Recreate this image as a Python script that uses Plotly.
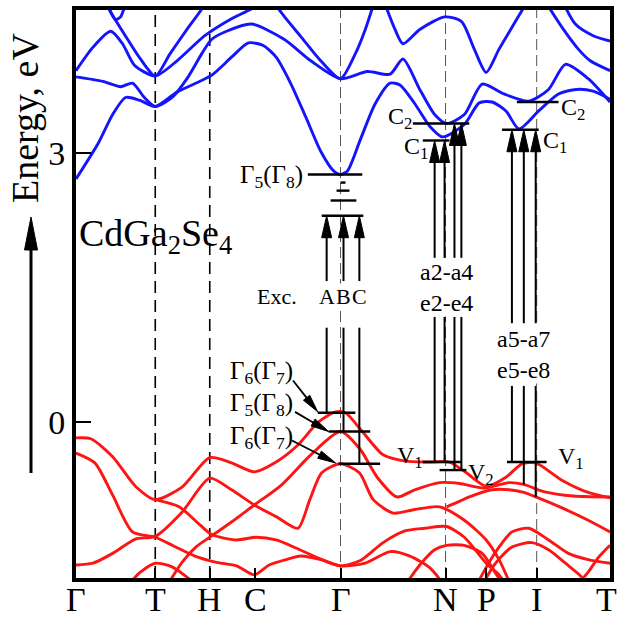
import numpy as np
import plotly.graph_objects as go

FONT = "Liberation Serif, Times New Roman, serif"
BLUE = "#1414ff"
RED = "#ff1414"

# ---------------- data ----------------
kpts = [0, 80, 135, 181, 267, 373, 414, 465, 539]
klabels = ["Γ", "T", "H", "C", "Γ", "N", "P", "I", "T"]
etick_vals = [0, 3]
etick_text = ["0", "3"]

# conduction bands (k, eV)
cb1_k = [0, 22, 37, 50, 64, 80, 102, 137, 157, 174, 189, 202, 217, 232, 247, 260, 267, 274, 287, 302,
         317, 327, 342, 357, 370, 392, 407, 420, 434, 447, 467, 487, 505, 522, 539]
cb1_e = [2.71, 3.10, 3.43, 3.62, 3.59, 3.52, 3.68, 3.87, 4.07, 4.23, 4.20, 4.07, 3.77, 3.40, 3.02, 2.80, 2.76, 2.80, 3.15, 3.55,
         3.78, 3.76, 3.55, 3.30, 3.18, 3.32, 3.56, 3.57, 3.47, 3.27, 3.47, 3.66, 3.71, 3.69, 3.60]
cb2_k = [0, 27, 45, 57, 69, 80, 97, 112, 127, 137, 152, 177, 210, 237, 267, 294, 317, 330, 347, 362,
         374, 392, 410, 432, 457, 477, 494, 517, 539]
cb2_e = [3.85, 3.80, 3.74, 3.78, 3.62, 3.52, 3.62, 3.83, 4.11, 4.27, 4.36, 4.44, 4.27, 4.03, 3.83, 3.91, 3.88, 4.05, 3.71, 3.43,
         3.33, 3.43, 3.77, 3.66, 3.58, 3.71, 3.99, 3.83, 3.57]
cb3_k = [0, 17, 35, 47, 59, 80, 102, 130, 157, 177, 189]
cb3_e = [3.92, 4.18, 4.36, 4.22, 3.98, 3.86, 4.03, 4.31, 4.50, 4.61, 4.72]
cb4_k = [197, 212, 227, 247, 267, 282, 292, 302]
cb4_e = [4.72, 4.50, 4.30, 4.03, 3.83, 4.11, 4.38, 4.72]
cb5_k = [310, 322, 330, 347, 372, 389, 402, 414, 427, 442, 457]
cb5_e = [4.72, 4.38, 4.22, 4.38, 4.52, 4.47, 4.16, 3.90, 4.16, 4.44, 4.72]
cb6_k = [472, 492, 507, 519, 539]
cb6_e = [4.72, 4.38, 4.16, 4.03, 3.92]
cb7_k = [490, 504, 522, 539]
cb7_e = [4.72, 4.44, 4.31, 4.25]
cb8_k = [27, 39, 52, 65, 80, 95, 112, 127, 132]
cb8_e = [4.72, 4.50, 4.27, 4.05, 3.86, 4.11, 4.38, 4.61, 4.72]
cb9_k = [31, 36, 40, 45, 49, 52]
cb9_e = [4.72, 4.55, 4.49, 4.52, 4.63, 4.72]

# valence bands (k, eV)
vb1_k = [0, 15, 37, 60, 80, 107, 135, 157, 180, 202, 224, 244, 262, 272, 289, 310, 332, 357, 377, 394,
         414, 434, 450, 464, 490, 517, 539]
vb1_e = [-0.18, -0.19, -0.39, -0.72, -0.87, -0.73, -0.40, -0.46, -0.56, -0.45, -0.26, -0.01, 0.11, 0.10, -0.11, -0.37, -0.44, -0.45, -0.45, -0.57,
         -0.72, -0.62, -0.47, -0.46, -0.65, -0.79, -0.85]
vb2_k = [0, 19, 37, 57, 80, 99, 120, 142, 162, 180, 195, 212, 227, 247, 267, 287, 310, 332, 352, 374, 392, 414, 427, 435]
vb2_e = [-0.35, -0.46, -0.82, -1.23, -1.29, -1.39, -1.50, -1.57, -1.61, -1.71, -1.60, -1.54, -1.50, -1.54, -1.61, -1.55,
         -1.35, -1.22, -1.19, -1.17, -1.29, -1.58, -1.71, -1.83]
vb3_k = [0, 17, 37, 60, 80, 107, 135, 157, 180, 202, 224, 236, 248, 267, 286, 300, 320, 342, 367, 392, 414, 427, 439]
vb3_e = [-1.60, -1.58, -1.47, -1.31, -1.28, -1.01, -0.63, -0.76, -0.93, -1.06, -1.19, -0.87, -0.57, -0.47, -0.57, -0.87,
         -1.02, -0.98, -0.95, -1.10, -1.32, -1.54, -1.83]
vb4_k = [80, 104, 122, 137, 162, 182, 202, 222, 244, 267, 292, 317, 337, 357, 372]
vb4_e = [-0.87, -0.95, -1.12, -1.26, -1.32, -1.29, -1.32, -1.41, -1.52, -1.61, -1.58, -1.45, -1.50, -1.63, -1.83]
vb5_k = [404, 417, 427, 440, 457, 477, 497, 517, 539]
vb5_e = [-1.83, -1.57, -1.40, -1.23, -1.19, -1.32, -1.47, -1.54, -1.58]
vb6_k = [92, 107, 122, 135, 157, 180, 207, 237, 267, 287, 304, 324, 342, 367, 387, 412, 437, 452, 472, 502, 539]
vb6_e = [-1.83, -1.57, -1.39, -1.29, -1.12, -0.93, -0.71, -0.37, -0.11, -0.31, -0.62, -0.84, -0.76, -0.68, -0.69, -0.74,
         -0.68, -0.70, -0.78, -0.83, -0.84]
vb7_k = [52, 65, 80, 97, 117, 122]
vb7_e = [-1.83, -1.68, -1.58, -1.62, -1.78, -1.83]
vb8_k = [505, 517, 527, 539]
vb8_e = [-1.83, -1.68, -1.52, -1.38]
vb9_k = [374, 387, 397, 420, 437, 452, 464, 490, 517, 539]
vb9_e = [-0.95, -0.89, -0.84, -0.76, -0.76, -0.79, -0.84, -0.96, -1.10, -1.23]
vb10_k = [410, 422, 440, 460, 477, 494, 510, 515]
vb10_e = [-1.83, -1.60, -1.40, -1.35, -1.43, -1.58, -1.73, -1.83]
vb11_k = [332, 347, 362, 374, 392, 410, 424, 432]
vb11_e = [-1.83, -1.60, -1.43, -1.38, -1.38, -1.47, -1.70, -1.83]

# energy levels: (k start, k end, eV)
level_k0 = [234, 267, 263, 257, 248, 244, 255, 265, 340, 350, 350, 367, 445, 430, 435]
level_k1 = [289, 272, 276, 283, 290, 282, 297, 307, 397, 377, 389, 394, 487, 467, 475]
level_e = [2.76, 2.67, 2.58, 2.47, 2.30, 0.10, -0.11, -0.47, 3.33, 3.14, -0.45, -0.54, 3.57, 3.26, -0.45]

# transitions (vertical arrows): k, from eV, to eV, label gap (lo, hi)
tr_k = [253, 270, 286, 362, 372, 382, 389, 440, 452, 464]
tr_from = [0.10, -0.11, -0.47, -0.45, -0.45, -0.54, -0.54, -0.45, -0.70, -0.84]
tr_to = [2.30, 2.30, 2.30, 3.14, 3.14, 3.33, 3.33, 3.26, 3.26, 3.26]
tr_gap_lo = [1.05, 1.05, 1.05, 1.17, 1.17, 1.17, 1.17, 0.40, 0.40, 0.40]
tr_gap_hi = [1.57, 1.57, 1.57, 1.83, 1.83, 1.83, 1.83, 1.10, 1.10, 1.10]

# labelled Gamma-point states with pointer arrows
gl_text = ["Γ<sub>6</sub>(Γ<sub>7</sub>)", "Γ<sub>5</sub>(Γ<sub>8</sub>)", "Γ<sub>6</sub>(Γ<sub>7</sub>)"]
gl_k = [220, 220, 220]
gl_e = [0.55, 0.19, -0.18]
gp_tail_k = [219, 221, 218]
gp_tail_e = [0.46, 0.11, -0.21]
gp_tip_k = [244, 255, 262]
gp_tip_e = [0.11, -0.11, -0.46]

# ---------------- geometry ----------------
W, H = 618, 619
ML, MR, MT, MB = 76, 8, 10, 41
KMIN, KMAX = 0, 539
EMIN, EMAX = -1.745, 4.597
PW = W - ML - MR
PH = H - MT - MB
SX = PW / (KMAX - KMIN)
SY = PH / (EMAX - EMIN)


def head_path(kt, et, dx, dy, L, Wd):
    n = np.hypot(dx, dy)
    ux, uy = dx / n, dy / n
    tx, ty = kt * SX, et * SY
    bx, by = tx - L * ux, ty - L * uy
    px, py = -uy, ux
    p1 = (bx + Wd / 2 * px, by + Wd / 2 * py)
    p2 = (bx - Wd / 2 * px, by - Wd / 2 * py)
    return f"M{kt},{et} L{p1[0]/SX},{p1[1]/SY} L{p2[0]/SX},{p2[1]/SY} Z"


fig = go.Figure()

for k, e in [(cb1_k, cb1_e), (cb2_k, cb2_e), (cb3_k, cb3_e), (cb4_k, cb4_e), (cb5_k, cb5_e),
             (cb6_k, cb6_e), (cb7_k, cb7_e), (cb8_k, cb8_e), (cb9_k, cb9_e)]:
    fig.add_trace(go.Scatter(x=k, y=e, mode="lines",
                             line=dict(color=BLUE, width=2.9, shape="spline", smoothing=0.7),
                             hoverinfo="skip", showlegend=False))
for k, e in [(vb1_k, vb1_e), (vb2_k, vb2_e), (vb3_k, vb3_e), (vb4_k, vb4_e), (vb5_k, vb5_e),
             (vb6_k, vb6_e), (vb7_k, vb7_e), (vb8_k, vb8_e), (vb9_k, vb9_e), (vb10_k, vb10_e),
             (vb11_k, vb11_e)]:
    fig.add_trace(go.Scatter(x=k, y=e, mode="lines",
                             line=dict(color=RED, width=2.9, shape="spline", smoothing=0.7),
                             hoverinfo="skip", showlegend=False))

# levels
lx, ly = [], []
for a, b, e in zip(level_k0, level_k1, level_e):
    lx += [a, b, None]
    ly += [e, e, None]
fig.add_trace(go.Scatter(x=lx, y=ly, mode="lines", line=dict(color="black", width=2.4),
                         hoverinfo="skip", showlegend=False))

# transition arrows
HEAD_L, HEAD_W = 22, 10
ax_, ay_ = [], []
for k, e0, e1, g0, g1 in zip(tr_k, tr_from, tr_to, tr_gap_lo, tr_gap_hi):
    ax_ += [k, k, None, k, k, None]
    ay_ += [e0, g0, None, g1, e1 - HEAD_L / SY * 0.8, None]
    fig.add_shape(type="path", path=head_path(k, e1, 0, 1, HEAD_L, HEAD_W),
                  xref="x", yref="y", fillcolor="black", line=dict(color="black", width=1))
fig.add_trace(go.Scatter(x=ax_, y=ay_, mode="lines", line=dict(color="black", width=2),
                         hoverinfo="skip", showlegend=False))

# Gamma labels and pointer arrows
px_, py_ = [], []
for t, k, e, tk, te, hk, he in zip(gl_text, gl_k, gl_e, gp_tail_k, gp_tail_e, gp_tip_k, gp_tip_e):
    fig.add_annotation(x=k, y=e, text=t, showarrow=False, xanchor="right", yanchor="middle",
                       borderpad=0, font=dict(family=FONT, size=25, color="black"))
    dx, dy = (hk - tk) * SX, (he - te) * SY
    n = np.hypot(dx, dy)
    bk = hk - 14 * dx / n / SX
    be = he - 14 * dy / n / SY
    px_ += [tk, bk, None]
    py_ += [te, be, None]
    fig.add_shape(type="path", path=head_path(hk, he, dx, dy, 18, 8), xref="x", yref="y",
                  fillcolor="black", line=dict(color="black", width=1))
fig.add_trace(go.Scatter(x=px_, y=py_, mode="lines", line=dict(color="black", width=1.8),
                         hoverinfo="skip", showlegend=False))

# vertical high-symmetry lines
for k, strong in zip([80, 135, 267, 373, 465], [True, True, False, False, False]):
    fig.add_shape(type="line", x0=k, x1=k, y0=0, y1=1, xref="x", yref="paper", layer="below",
                  line=dict(color="black" if strong else "#555555", width=1.6 if strong else 1.0,
                            dash="12px,7px" if strong else "11px,5px"))

# text labels
def txt(x, y, s, size, xanchor="center", xref="x", yref="y", angle=0, bg=None, xshift=0):
    fig.add_annotation(x=x, y=y, text=s, showarrow=False, xanchor=xanchor, yanchor="middle",
                       xref=xref, yref=yref, textangle=angle, borderpad=0, xshift=xshift,
                       bgcolor=bg if bg else "rgba(0,0,0,0)",
                       font=dict(family=FONT, size=size, color="black"))

txt(230, 2.74, "Γ<sub>5</sub>(Γ<sub>8</sub>)", 25, "right")
txt(203, 1.40, "Exc.", 22)
for k, s in zip([253, 270, 286], ["A", "B", "C"]):
    txt(k, 1.40, s, 22, bg="white")
txt(374, 1.50, "a2-a4<br>e2-e4", 24, bg="white")
txt(452, 0.75, "a5-a7<br>e5-e8", 24, bg="white")
txt(340, 3.39, "C<sub>2</sub>", 24, "right")
txt(356, 3.06, "C<sub>1</sub>", 24, "right")
txt(489, 3.49, "C<sub>2</sub>", 24, "left")
txt(470, 3.12, "C<sub>1</sub>", 24, "left")
txt(351, -0.39, "V<sub>1</sub>", 24, "right")
txt(395, -0.58, "V<sub>2</sub>", 24, "left")
txt(485, -0.41, "V<sub>1</sub>", 24, "left")
txt(2, 2.07, "CdGa<sub>2</sub>Se<sub>4</sub>", 38, "left")

# k-point labels below the axis
for i, (k, s) in enumerate(zip(kpts, klabels)):
    txt(k, -21 / PH, s, 34, "center", "x", "paper", xshift=(-4 if i == len(kpts) - 1 else 0))

# axis title and arrow (outside plot area, paper coords)
txt((25 - ML) / PW, (H - MB - 118) / PH, "Energy, eV", 38, "center", "paper", "paper", -90)
axx = (31 - ML) / PW
fig.add_shape(type="line", xref="paper", yref="paper", x0=axx, x1=axx,
              y0=(H - MB - 473) / PH, y1=(H - MB - 245) / PH, line=dict(color="black", width=3))
tipy = (H - MB - 217) / PH
basey = (H - MB - 250) / PH
hw = 6.5 / PW
fig.add_shape(type="path", xref="paper", yref="paper",
              path=f"M{axx},{tipy} L{axx-hw},{basey} L{axx+hw},{basey} Z",
              fillcolor="black", line=dict(color="black", width=1))

fig.update_xaxes(range=[KMIN, KMAX], tickvals=kpts, showticklabels=False, ticks="inside", ticklen=10,
                 tickwidth=2, tickcolor="black", showline=True, mirror=True, linewidth=4,
                 linecolor="black", showgrid=False, zeroline=False, automargin=False)
fig.update_yaxes(range=[EMIN, EMAX], tickvals=etick_vals, ticktext=etick_text, ticks="inside",
                 ticklen=15, tickwidth=2, tickcolor="black", showline=True, mirror=True, linewidth=4,
                 linecolor="black", showgrid=False, zeroline=False, automargin=False,
                 tickfont=dict(family=FONT, size=34, color="black"))
fig.update_layout(width=W, height=H, margin=dict(l=ML, r=MR, t=MT, b=MB, autoexpand=False),
                  paper_bgcolor="white", plot_bgcolor="white", showlegend=False)

fig.write_html("out.html")
